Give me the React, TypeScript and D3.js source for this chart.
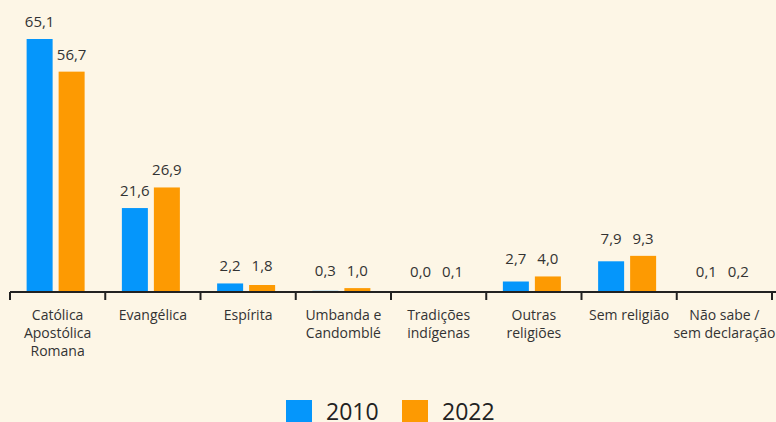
import React from "react";
import * as d3 from "d3";

const categories: string[][] = [
  ["Católica", "Apostólica", "Romana"],
  ["Evangélica"],
  ["Espírita"],
  ["Umbanda e", "Candomblé"],
  ["Tradições", "indígenas"],
  ["Outras", "religiões"],
  ["Sem religião"],
  ["Não sabe /", "sem declaração"],
];
const values2010 = [65.1, 21.6, 2.2, 0.3, 0.0, 2.7, 7.9, 0.1];
const values2022 = [56.7, 26.9, 1.8, 1.0, 0.1, 4.0, 9.3, 0.2];
const seriesNames = ["2010", "2022"];
const colors = ["#0596fb", "#fd9a02"];

const W = 776;
const H = 422;
const axisY = 292;
const left = 10;
const right = 772;

export default function App() {
  const x = d3
    .scaleBand<number>()
    .domain(d3.range(categories.length))
    .range([left, right]);
  const y = d3.scaleLinear().domain([0, 65.1]).range([axisY, 39]);
  const barW = 26;
  const gap = 6;
  const fmt = (v: number) => v.toFixed(1).replace(".", ",");
  const font = "'Open Sans', 'Noto Sans', sans-serif";

  return (
    <svg
      width={W}
      height={H}
      style={{ position: "absolute", left: 0, top: 0, display: "block" }}
    >
      <rect x={0} y={0} width={W} height={H} fill="#fdf6e6" />
      {categories.map((lines, i) => {
        const center = (x(i) as number) + x.bandwidth() / 2;
        const cx = center - 2;
        const vals = [values2010[i], values2022[i]];
        const aligned = Math.abs(vals[0] - vals[1]) < 2;
        const vmax = Math.max(vals[0], vals[1]);
        return (
          <g key={i}>
            {vals.map((v, s) => {
              const bx = s === 0 ? cx - gap / 2 - barW : cx + gap / 2;
              const top = y(v);
              const ly = aligned
                ? Math.min(y(vmax) - 12, 277)
                : Math.min(top - 12, 277);
              return (
                <g key={s}>
                  {v > 0 && (
                    <rect
                      x={bx}
                      y={top}
                      width={barW}
                      height={axisY - top}
                      fill={colors[s]}
                    />
                  )}
                  <text
                    x={bx + barW / 2}
                    y={ly}
                    textAnchor="middle"
                    fontFamily={font}
                    fontSize={15}
                    fill="#333"
                  >
                    {fmt(v)}
                  </text>
                </g>
              );
            })}
            {lines.map((ln, k) => (
              <text
                key={k}
                x={center}
                y={320 + k * 18}
                textAnchor="middle"
                fontFamily={font}
                fontSize={14}
                fill="#333"
              >
                {ln}
              </text>
            ))}
          </g>
        );
      })}
      <line
        x1={left}
        x2={W}
        y1={axisY}
        y2={axisY}
        stroke="#222"
        strokeWidth={2}
      />
      {d3.range(categories.length + 1).map((i) => {
        const tx = left + i * x.step();
        return (
          <line
            key={i}
            x1={tx}
            x2={tx}
            y1={axisY}
            y2={axisY + 8}
            stroke="#222"
            strokeWidth={2}
          />
        );
      })}
      {seriesNames.map((name, s) => {
        const lx = s === 0 ? 286 : 402;
        return (
          <g key={name}>
            <rect x={lx} y={400} width={26} height={26} fill={colors[s]} />
            <text
              x={lx + 40}
              y={420}
              fontFamily={font}
              fontSize={23}
              fill="#222"
            >
              {name}
            </text>
          </g>
        );
      })}
    </svg>
  );
}
